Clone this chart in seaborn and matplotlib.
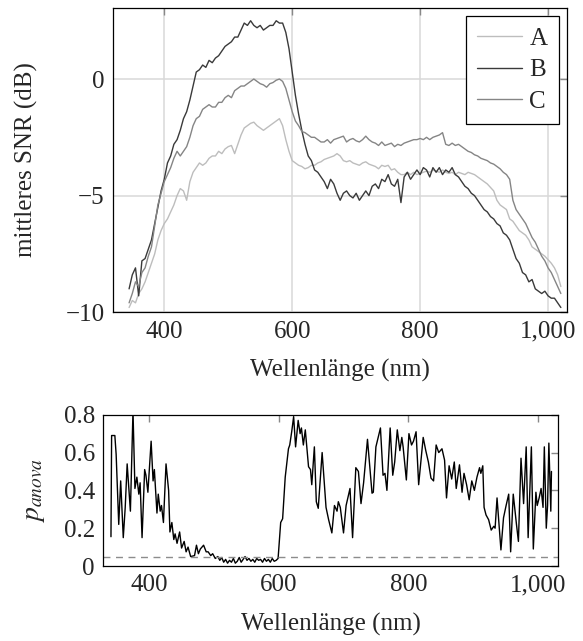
import numpy as np
import pandas as pd
import seaborn as sns
import matplotlib.pyplot as plt
from matplotlib.ticker import FuncFormatter

# wavelength grid of the SNR curves (nm)
wl = np.arange(345, 1021, 5)

# mean SNR in dB (rows: 345-395, then 100 nm per row, last 1000-1020)
snr_a = [-9.8, -9.5, -9.6, -9.2, -9.0, -8.7, -8.3, -7.9, -7.5, -6.9, -6.5,
         -6.2, -6.0, -5.7, -5.4, -5.0, -4.7, -4.8, -5.2, -4.4, -4.0, -3.8, -3.6, -3.7, -3.6, -3.4, -3.3, -3.3, -3.1, -3.2, -3.0,
         -2.9, -2.85, -3.2, -2.8, -2.4, -2.1, -2.0, -1.9, -1.85, -2.0, -2.1, -2.2, -2.1, -2.0, -1.9, -1.8, -1.7, -2.0, -2.6, -3.1,
         -3.5, -3.6, -3.7, -3.75, -3.85, -3.8, -3.7, -3.7, -3.6, -3.55, -3.45, -3.4, -3.35, -3.3, -3.2, -3.3, -3.5, -3.55, -3.5, -3.6,
         -3.65, -3.7, -3.6, -3.55, -3.65, -3.7, -3.75, -3.85, -3.7, -3.75, -3.7, -3.9, -3.85, -4.0, -4.1, -4.1, -4.0, -4.1, -4.0, -4.1,
         -4.05, -4.0, -3.95, -4.0, -3.9, -3.95, -4.0, -3.9, -4.0, -4.05, -4.0, -4.1, -4.0, -4.05, -4.1, -4.0, -4.05, -4.1, -4.2, -4.3,
         -4.4, -4.5, -4.65, -4.8, -5.2, -5.4, -5.5, -5.6, -6.0, -6.1, -6.3, -6.5, -6.6, -6.7, -6.9, -7.2, -7.3, -7.4, -7.5, -7.6,
         -7.75, -7.9, -8.1, -8.4, -8.9]

snr_b = [-9.0, -8.4, -8.1, -9.3, -7.8, -7.7, -7.3, -6.9, -6.2, -5.5, -4.8,
         -4.3, -3.6, -3.3, -2.8, -2.6, -2.2, -1.7, -1.4, -0.9, -0.3, 0.3, 0.4, 0.6, 0.5, 0.8, 0.7, 0.9, 1.0, 1.2, 1.4,
         1.5, 1.6, 1.8, 1.8, 2.1, 2.4, 2.3, 2.5, 2.3, 2.2, 2.3, 2.1, 2.2, 2.3, 2.3, 2.5, 2.4, 2.4, 2.0, 1.3,
         0.3, -0.7, -1.5, -2.2, -2.8, -3.3, -3.5, -3.9, -4.0, -4.2, -4.4, -4.7, -4.3, -4.5, -4.9, -5.2, -4.9, -4.8, -5.0, -5.1,
         -4.9, -5.2, -5.0, -4.8, -5.0, -4.6, -4.5, -4.7, -4.3, -4.4, -4.1, -4.5, -4.6, -4.3, -5.3, -4.2, -4.0, -4.3, -4.1, -3.9,
         -4.1, -3.8, -3.9, -4.2, -3.8, -4.0, -3.8, -4.1, -3.9, -4.0, -3.8, -4.1, -4.2, -4.4, -4.6, -4.7, -4.9, -5.0, -5.2, -5.4,
         -5.6, -5.7, -5.9, -6.0, -6.2, -6.3, -6.6, -6.7, -6.9, -7.3, -7.7, -7.9, -8.3, -8.4, -8.7, -8.6, -9.0, -9.1, -9.2, -9.1,
         -9.3, -9.4, -9.4, -9.6, -9.8]

snr_c = [-9.6, -9.2, -8.7, -8.9, -8.3, -8.1, -7.6, -7.2, -6.3, -5.4, -4.9,
         -4.4, -4.1, -3.8, -3.4, -3.1, -3.3, -3.1, -2.9, -2.5, -2.0, -1.7, -1.6, -1.3, -1.2, -1.1, -1.2, -1.2, -1.0, -1.0, -0.8,
         -0.7, -0.8, -0.5, -0.4, -0.3, -0.3, -0.2, -0.1, 0.0, -0.1, -0.2, -0.25, -0.35, -0.2, -0.15, -0.05, 0.0, -0.1, -0.4, -0.9,
         -1.4, -1.8, -2.0, -2.25, -2.3, -2.4, -2.5, -2.5, -2.6, -2.7, -2.7, -2.6, -2.75, -2.6, -2.55, -2.5, -2.45, -2.7, -2.6, -2.55,
         -2.65, -2.7, -2.6, -2.45, -2.6, -2.7, -2.75, -2.85, -2.7, -2.85, -2.8, -2.75, -2.9, -2.8, -2.85, -2.75, -2.7, -2.65, -2.6, -2.6,
         -2.55, -2.6, -2.5, -2.6, -2.5, -2.45, -2.4, -2.3, -2.8, -2.85, -2.75, -2.85, -2.8, -2.9, -3.0, -3.1, -3.15, -3.25, -3.3, -3.4,
         -3.45, -3.5, -3.6, -3.65, -3.75, -3.85, -4.0, -4.1, -4.3, -5.2, -5.6, -5.8, -6.0, -6.2, -6.5, -6.8, -7.0, -7.3, -7.6, -7.8,
         -8.1, -8.3, -8.6, -8.9, -9.2]

# anova p-values (wavelength, p)
p_wl = [341, 342, 347, 349, 353, 356, 360, 363, 366, 371, 375, 378, 381, 384, 386, 389, 393, 395, 398,
        403, 406, 408, 412, 414, 417, 419, 422, 426, 430, 432, 435, 438, 440, 443, 447, 450, 454, 457, 460,
        464, 470, 473, 476, 479, 484, 488, 491, 495, 498, 502, 506, 509,
        512, 515, 518, 521, 524, 527, 530, 533, 536, 539, 542, 545, 548, 551, 554, 557, 560, 563, 566, 569,
        572, 575, 578, 581, 584, 587, 590, 593, 596, 599,
        603, 606, 610, 615, 617, 620, 623, 626, 630, 633, 635, 638, 641, 646, 649, 651, 655, 658, 661, 667,
        673, 677, 682, 686, 690, 692, 695, 700, 704, 710, 714, 719, 723, 727, 731, 737, 740, 744, 746, 750,
        757, 761, 764, 767, 772, 776, 779, 783, 787, 790, 792, 797, 801, 805, 808, 812, 816, 823, 827, 831,
        835, 839, 843, 847, 852, 856, 859, 863, 867, 871, 874, 879, 883, 886, 890, 894, 898, 902, 906, 910,
        912, 915, 917, 920, 924, 928, 932, 934, 937, 940, 943, 947, 951, 955, 958, 962, 967, 970, 974, 978,
        982, 985, 990, 993, 997, 999, 1002, 1005, 1008, 1010, 1013, 1015, 1017, 1020, 1021]
p_val = [0.155, 0.69, 0.69, 0.59, 0.22, 0.45, 0.15, 0.31, 0.54, 0.29, 0.82, 0.41, 0.47, 0.38, 0.44, 0.15, 0.51, 0.48, 0.39,
         0.66, 0.45, 0.51, 0.28, 0.38, 0.29, 0.32, 0.23, 0.54, 0.40, 0.18, 0.23, 0.14, 0.17, 0.12, 0.18, 0.095, 0.13, 0.075, 0.10,
         0.05, 0.055, 0.11, 0.065, 0.09, 0.11, 0.075, 0.075, 0.055, 0.065, 0.04, 0.05, 0.03,
         0.045, 0.02, 0.035, 0.015, 0.03, 0.02, 0.04, 0.015, 0.025, 0.045, 0.02, 0.035, 0.05, 0.03, 0.04, 0.025, 0.035, 0.02, 0.04, 0.03,
         0.035, 0.02, 0.04, 0.025, 0.035, 0.02, 0.04, 0.025, 0.03, 0.04,
         0.23, 0.25, 0.47, 0.62, 0.64, 0.71, 0.79, 0.63, 0.77, 0.70, 0.73, 0.64, 0.72, 0.525, 0.51, 0.43, 0.63, 0.34, 0.305, 0.60,
         0.31, 0.245, 0.175, 0.32, 0.29, 0.34, 0.31, 0.175, 0.32, 0.41, 0.15, 0.52, 0.50, 0.33, 0.44, 0.67, 0.55, 0.385, 0.39, 0.63,
         0.73, 0.48, 0.49, 0.40, 0.73, 0.48, 0.55, 0.72, 0.61, 0.68, 0.63, 0.455, 0.70, 0.64, 0.66, 0.71, 0.43, 0.68, 0.61, 0.55,
         0.465, 0.45, 0.64, 0.60, 0.62, 0.56, 0.36, 0.53, 0.46, 0.55, 0.41, 0.535, 0.39, 0.49, 0.43, 0.35, 0.45, 0.40, 0.47, 0.52,
         0.49, 0.53, 0.31, 0.27, 0.245, 0.19, 0.21, 0.20, 0.36, 0.22, 0.085, 0.255, 0.32, 0.38, 0.075, 0.38, 0.22, 0.13, 0.57, 0.33,
         0.63, 0.15, 0.63, 0.09, 0.39, 0.32, 0.36, 0.41, 0.31, 0.63, 0.20, 0.32, 0.65, 0.29, 0.50]
p_limit = 0.05

series_names = ["A", "B", "C"]
series_colors = ["#bdbdbd", "#3a3a3a", "#858585"]

snr = pd.DataFrame({"wl": np.tile(wl, 3),
                    "snr": snr_a + snr_b + snr_c,
                    "serie": np.repeat(series_names, len(wl))})
panova = pd.DataFrame({"wl": p_wl, "p": p_val})

sns.set_theme(style="white")
plt.rcParams["font.family"] = ["Liberation Serif", "DejaVu Serif"]
plt.rcParams["mathtext.fontset"] = "stix"
plt.rcParams["axes.unicode_minus"] = True

fig = plt.figure(figsize=(5.83, 6.41), dpi=100)
ax1 = fig.add_axes([0.194, 0.513, 0.779, 0.475])
ax2 = fig.add_axes([0.177, 0.117, 0.780, 0.236])

fs = 18

sns.lineplot(data=snr, x="wl", y="snr", hue="serie", palette=series_colors,
             hue_order=series_names, ax=ax1, lw=1.0, legend=True)
ax1.set_xlim(320, 1030)
ax1.set_ylim(-10, 3.06)
ax1.set_xticks([400, 600, 800, 1000])
ax1.set_yticks([-10, -5, 0])
ax1.grid(True, color="#d9d9d9", lw=1.1)
ax1.set_axisbelow(True)
ax1.set_xlabel("Wellenlänge (nm)", fontsize=fs, labelpad=12)
ax1.set_ylabel("mittleres SNR (dB)", fontsize=fs, labelpad=20)
leg = ax1.legend(loc="upper right", fontsize=fs, frameon=True, fancybox=False,
                 edgecolor="black", framealpha=1, handlelength=1.8,
                 borderaxespad=0.35, labelspacing=0.35, handletextpad=0.3,
                 borderpad=0.45)
leg.get_frame().set_linewidth(0.9)

sns.lineplot(data=panova, x="wl", y="p", color="black", lw=1.0, ax=ax2)
ax2.axhline(p_limit, color="#8c8c8c", lw=1.0, ls=(0, (5, 4)))
ax2.set_xlim(329, 1031)
ax2.set_ylim(0, 0.8)
ax2.set_xticks([400, 600, 800, 1000])
ax2.set_yticks([0, 0.2, 0.4, 0.6, 0.8])
ax2.yaxis.set_major_formatter(FuncFormatter(lambda v, _: "0" if v == 0 else f"{v:.1f}"))
ax2.set_xlabel("Wellenlänge (nm)", fontsize=fs, labelpad=12)
ax2.set_ylabel(r"$p_{anova}$", fontsize=fs + 2, labelpad=12)

for ax in (ax1, ax2):
    ax.xaxis.set_major_formatter(FuncFormatter(lambda v, _: f"{int(v):,}"))
    ax.tick_params(direction="in", length=5, width=1, color="#888888",
                   top=True, right=True, labelsize=fs, pad=6)
    for s in ax.spines.values():
        s.set_color("black")
        s.set_linewidth(0.9)

fig.savefig("out.png", dpi=100)
